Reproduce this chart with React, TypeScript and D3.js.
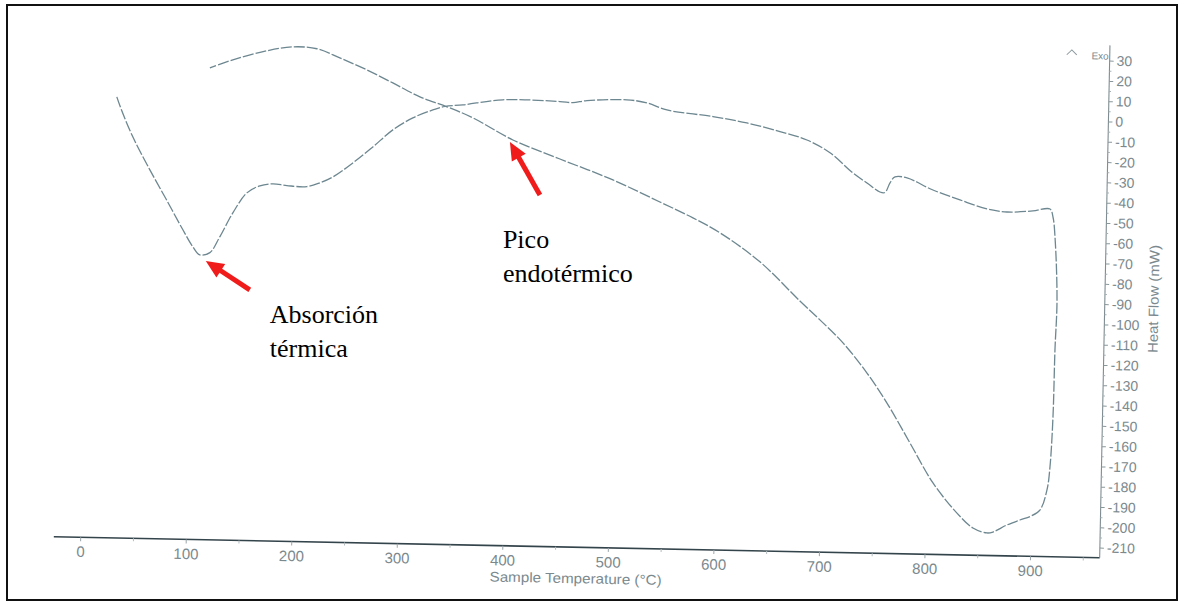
import React, { useRef, useEffect } from "react";
import * as d3 from "d3";

// DSC trace: heating ramp, the drop at the end of the ramp, and the return leg
const heatT = [26.3, 30.9, 42.2, 59.0, 75.3, 91.4, 101.2, 107.9, 117.4, 126.5, 138.4, 151.3, 163.5, 175.8, 189.1, 208.0, 220.3, 232.5, 251.1, 269.8, 288.4, 307.1, 325.9, 337.3, 354.3, 392.0, 446.1, 458.4, 471.6, 509.5, 528.5, 547.6, 591.3, 623.6, 655.1, 680.8, 702.9, 725.0, 738.5, 750.9, 755.7, 760.3, 764.9, 776.3, 801.1, 826.9, 852.6, 871.7, 896.2, 912.3];
const heatHF = [2.3, -4.0, -17.2, -33.3, -47.9, -62.5, -70.8, -74.7, -73.5, -65.6, -53.7, -43.7, -40.1, -39.0, -39.7, -40.0, -38.0, -35.0, -27.9, -19.8, -11.2, -5.1, -1.0, 0.9, 1.8, 4.7, 4.4, 4.0, 5.1, 5.9, 4.6, 1.3, -1.5, -4.3, -8.2, -12.1, -18.2, -27.9, -32.7, -37.0, -37.2, -32.4, -29.4, -29.8, -35.5, -40.1, -44.3, -45.6, -44.8, -43.7];

const dropT = [915.3, 917.6, 920.7, 919.7, 919.1, 917.2, 914.8, 908.5, 899.2, 889.7, 877.4];
const dropHF = [-47.6, -57.4, -88.4, -113.1, -146.1, -170.8, -182.1, -192.1, -195.4, -197.2, -199.8];

const returnT = [864.4, 858.8, 845.4, 830.0, 806.7, 784.1, 761.6, 742.1, 718.8, 696.5, 677.2, 638.6, 600.2, 574.3, 542.7, 497.8, 447.2, 402.3, 364.0, 339.2, 313.4, 287.5, 262.6, 236.8, 214.9, 192.1, 167.5, 135.5, 113.9];
const returnHF = [-203.4, -203.9, -201.6, -194.4, -179.8, -160.3, -140.9, -126.3, -111.7, -100.6, -91.5, -72.6, -58.7, -51.6, -44.1, -33.7, -23.9, -15.0, -4.5, 0.7, 5.3, 11.9, 18.1, 23.7, 28.0, 28.7, 26.5, 21.7, 17.5];

const xTicks = [0, 100, 200, 300, 400, 500, 600, 700, 800, 900];
const xMinorTicks = [50, 150, 250, 350, 450, 550, 650, 750, 850, 950];
const yTicks = [30, 20, 10, 0, -10, -20, -30, -40, -50, -60, -70, -80, -90, -100, -110, -120, -130, -140, -150, -160, -170, -180, -190, -200, -210];
const xAxisSpan = [-25, 966];
const yAxisSpan = [-215, 37.5];

const noteLabels = [["Absorción", "térmica"], ["Pico", "endotérmico"]];
const noteTemps = [113.7, 399.5];
const noteFlows = [-77.6, -16.0];

export default function App() {
	const ref = useRef<SVGSVGElement>(null);

	const layout = { width: 1178, height: 601, tilt: 1.15 };
	const tickFont = "'Liberation Sans Narrow', 'Liberation Sans', Arial, sans-serif";
	const inkGray = "#7b898e";

	useEffect(() => {
		const x = d3.scaleLinear().domain([0, 900]).range([80, 1030]);
		const y = d3.scaleLinear().domain([-210, 30]).range([547.6, 60.5]);

		const cx = x(xAxisSpan[1]);
		const cy = y(yAxisSpan[0]);
		const rad = layout.tilt * Math.PI / 180;
		const toScreen = (u: number, v: number) => [
			cx + (u - cx) * Math.cos(rad) - (v - cy) * Math.sin(rad),
			cy + (u - cx) * Math.sin(rad) + (v - cy) * Math.cos(rad)
		];

		const svg = d3.select(ref.current);
		svg.selectAll("*").remove();

		// outer frame of the figure
		svg.append("rect")
			.attr("x", 7).attr("y", 5)
			.attr("width", 1170).attr("height", 595)
			.attr("fill", "#fff")
			.attr("stroke", "#111")
			.attr("stroke-width", 2);

		// the scanned plot is a little tilted
		const plot = svg.append("g")
			.attr("transform", `rotate(${layout.tilt},${cx},${cy})`);

		plot.append("line")
			.attr("x1", x(xAxisSpan[0])).attr("x2", cx)
			.attr("y1", cy).attr("y2", cy)
			.attr("stroke", "#34444b")
			.attr("stroke-width", 1.6);

		plot.append("line")
			.attr("x1", cx).attr("x2", cx)
			.attr("y1", y(yAxisSpan[1])).attr("y2", cy)
			.attr("stroke", "#7f8d92")
			.attr("stroke-width", 1.1);

		const xAxisG = plot.append("g")
			.attr("transform", `translate(0,${cy})`)
			.call(d3.axisBottom(x).tickValues(xTicks).tickSize(4).tickPadding(5).tickFormat(d => String(d)));
		xAxisG.select(".domain").remove();
		xAxisG.attr("font-family", tickFont).attr("font-size", 15);
		xAxisG.selectAll("line").attr("stroke", "#9aa6aa");
		xAxisG.selectAll("text").attr("fill", inkGray);

		const xMinorG = plot.append("g")
			.attr("transform", `translate(0,${cy})`)
			.call(d3.axisBottom(x).tickValues(xMinorTicks).tickSize(3).tickFormat(() => ""));
		xMinorG.select(".domain").remove();
		xMinorG.selectAll("line").attr("stroke", "#b3bcbf");

		const yAxisG = plot.append("g")
			.attr("transform", `translate(${cx},0)`)
			.call(d3.axisRight(y).tickValues(yTicks).tickSize(4).tickPadding(3).tickFormat(d => String(d)));
		yAxisG.select(".domain").remove();
		yAxisG.attr("font-family", tickFont).attr("font-size", 14);
		yAxisG.selectAll("line").attr("stroke", "#8a979b");
		yAxisG.selectAll("text").attr("fill", inkGray);

		const yMinorG = plot.append("g")
			.attr("transform", `translate(${cx},0)`)
			.call(d3.axisRight(y).tickValues(d3.range(-205, 35, 10)).tickSize(2).tickFormat(() => ""));
		yMinorG.select(".domain").remove();
		yMinorG.selectAll("line").attr("stroke", "#a7b1b4");

		// exo-up marker
		plot.append("path")
			.attr("d", `M${cx - 43},${y(30) - 5} L${cx - 38},${y(30) - 10} L${cx - 33},${y(30) - 5}`)
			.attr("fill", "none")
			.attr("stroke", "#8d999d")
			.attr("stroke-width", 1);
		plot.append("text")
			.attr("x", cx - 1).attr("y", y(30) - 1)
			.attr("text-anchor", "end")
			.attr("font-family", tickFont)
			.attr("font-size", 10)
			.attr("fill", inkGray)
			.text("Exo");

		plot.append("text")
			.attr("x", x(470)).attr("y", cy + 36)
			.attr("text-anchor", "middle")
			.attr("font-family", tickFont)
			.attr("font-size", 14)
			.attr("fill", inkGray)
			.attr("textLength", 172)
			.attr("lengthAdjust", "spacingAndGlyphs")
			.text("Sample Temperature (°C)");

		plot.append("text")
			.attr("transform", `translate(${cx + 50},${y(-87)}) rotate(-90)`)
			.attr("text-anchor", "middle")
			.attr("dominant-baseline", "middle")
			.attr("font-family", tickFont)
			.attr("font-size", 14)
			.attr("fill", inkGray)
			.attr("textLength", 108)
			.attr("lengthAdjust", "spacingAndGlyphs")
			.text("Heat Flow (mW)");

		// one continuous trace
		const trace: [number, number][] = [
			...heatT.map((t, i) => [t, heatHF[i]] as [number, number]),
			...dropT.map((t, i) => [t, dropHF[i]] as [number, number]),
			...returnT.map((t, i) => [t, returnHF[i]] as [number, number])
		];

		const line = d3.line<[number, number]>()
			.x(d => x(d[0]))
			.y(d => y(d[1]))
			.curve(d3.curveCatmullRom.alpha(0.5));

		plot.append("path")
			.attr("d", line(trace))
			.attr("fill", "none")
			.attr("stroke", "#6d8790")
			.attr("stroke-width", 1.3)
			.attr("stroke-dasharray", "11 2");

		// red arrows and captions pasted over the scan (not tilted)
		const noteLayout = [
			{ tail: [44, 29], text: [64, 62] },
			{ tail: [30, 53], text: [-7, 106] }
		];

		noteLabels.forEach((lines, i) => {
			const [tx, ty] = toScreen(x(noteTemps[i]), y(noteFlows[i]));
			const sx = tx + noteLayout[i].tail[0];
			const sy = ty + noteLayout[i].tail[1];
			const len = Math.hypot(tx - sx, ty - sy);
			const dx = (tx - sx) / len, dy = (ty - sy) / len;
			const headLen = 18, headHalf = 8;
			const bx = tx - dx * headLen, by = ty - dy * headLen;

			svg.append("line")
				.attr("x1", sx).attr("y1", sy)
				.attr("x2", bx + dx).attr("y2", by + dy)
				.attr("stroke", "#f01c1c")
				.attr("stroke-width", 5);

			svg.append("polygon")
				.attr("points", [
					[tx, ty],
					[bx - dy * headHalf, by + dx * headHalf],
					[bx + dy * headHalf, by - dx * headHalf]
				].map(p => p.join(",")).join(" "))
				.attr("fill", "#f01c1c");

			lines.forEach((s, j) => {
				svg.append("text")
					.attr("x", tx + noteLayout[i].text[0])
					.attr("y", ty + noteLayout[i].text[1] + j * 34)
					.attr("font-family", "'Liberation Serif', 'Times New Roman', serif")
					.attr("font-size", 26)
					.attr("fill", "#000")
					.text(s);
			});
		});
	}, []);

	return (
		<svg ref={ref}
			width={layout.width}
			height={layout.height}
			style={{ position: "absolute", left: 0, top: 0, background: "#fff" }} />
	);
}
